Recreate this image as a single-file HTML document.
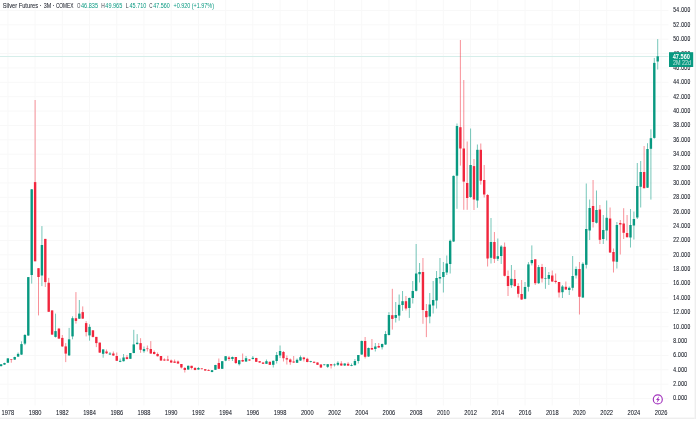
<!DOCTYPE html>
<html><head><meta charset="utf-8"><title>Silver Futures 3M COMEX</title>
<style>
html,body{margin:0;padding:0;background:#fff;width:700px;height:421px;overflow:hidden}
svg{display:block}
text{font-family:"Liberation Sans",Arial,sans-serif}
</style></head><body>
<svg width="700" height="421" viewBox="0 0 700 421">
<rect x="0" y="0" width="700" height="421" fill="#ffffff"/>
<rect x="0" y="398.00" width="668.5" height="1" fill="#f8f8f8"/>
<rect x="0" y="383.63" width="668.5" height="1" fill="#f8f8f8"/>
<rect x="0" y="369.25" width="668.5" height="1" fill="#f8f8f8"/>
<rect x="0" y="354.88" width="668.5" height="1" fill="#f8f8f8"/>
<rect x="0" y="340.50" width="668.5" height="1" fill="#f8f8f8"/>
<rect x="0" y="326.13" width="668.5" height="1" fill="#f8f8f8"/>
<rect x="0" y="311.76" width="668.5" height="1" fill="#f8f8f8"/>
<rect x="0" y="297.38" width="668.5" height="1" fill="#f8f8f8"/>
<rect x="0" y="283.01" width="668.5" height="1" fill="#f8f8f8"/>
<rect x="0" y="268.63" width="668.5" height="1" fill="#f8f8f8"/>
<rect x="0" y="254.26" width="668.5" height="1" fill="#f8f8f8"/>
<rect x="0" y="239.89" width="668.5" height="1" fill="#f8f8f8"/>
<rect x="0" y="225.51" width="668.5" height="1" fill="#f8f8f8"/>
<rect x="0" y="211.14" width="668.5" height="1" fill="#f8f8f8"/>
<rect x="0" y="196.76" width="668.5" height="1" fill="#f8f8f8"/>
<rect x="0" y="182.39" width="668.5" height="1" fill="#f8f8f8"/>
<rect x="0" y="168.02" width="668.5" height="1" fill="#f8f8f8"/>
<rect x="0" y="153.64" width="668.5" height="1" fill="#f8f8f8"/>
<rect x="0" y="139.27" width="668.5" height="1" fill="#f8f8f8"/>
<rect x="0" y="124.89" width="668.5" height="1" fill="#f8f8f8"/>
<rect x="0" y="110.52" width="668.5" height="1" fill="#f8f8f8"/>
<rect x="0" y="96.15" width="668.5" height="1" fill="#f8f8f8"/>
<rect x="0" y="81.77" width="668.5" height="1" fill="#f8f8f8"/>
<rect x="0" y="67.40" width="668.5" height="1" fill="#f8f8f8"/>
<rect x="0" y="53.02" width="668.5" height="1" fill="#f8f8f8"/>
<rect x="0" y="38.65" width="668.5" height="1" fill="#f8f8f8"/>
<rect x="0" y="24.28" width="668.5" height="1" fill="#f8f8f8"/>
<rect x="0" y="9.90" width="668.5" height="1" fill="#f8f8f8"/>
<rect x="7.38" y="0" width="1" height="405.5" fill="#f8f8f8"/>
<rect x="34.60" y="0" width="1" height="405.5" fill="#f8f8f8"/>
<rect x="61.82" y="0" width="1" height="405.5" fill="#f8f8f8"/>
<rect x="89.04" y="0" width="1" height="405.5" fill="#f8f8f8"/>
<rect x="116.25" y="0" width="1" height="405.5" fill="#f8f8f8"/>
<rect x="143.47" y="0" width="1" height="405.5" fill="#f8f8f8"/>
<rect x="170.69" y="0" width="1" height="405.5" fill="#f8f8f8"/>
<rect x="197.91" y="0" width="1" height="405.5" fill="#f8f8f8"/>
<rect x="225.13" y="0" width="1" height="405.5" fill="#f8f8f8"/>
<rect x="252.34" y="0" width="1" height="405.5" fill="#f8f8f8"/>
<rect x="279.56" y="0" width="1" height="405.5" fill="#f8f8f8"/>
<rect x="306.78" y="0" width="1" height="405.5" fill="#f8f8f8"/>
<rect x="334.00" y="0" width="1" height="405.5" fill="#f8f8f8"/>
<rect x="361.21" y="0" width="1" height="405.5" fill="#f8f8f8"/>
<rect x="388.43" y="0" width="1" height="405.5" fill="#f8f8f8"/>
<rect x="415.65" y="0" width="1" height="405.5" fill="#f8f8f8"/>
<rect x="442.87" y="0" width="1" height="405.5" fill="#f8f8f8"/>
<rect x="470.08" y="0" width="1" height="405.5" fill="#f8f8f8"/>
<rect x="497.30" y="0" width="1" height="405.5" fill="#f8f8f8"/>
<rect x="524.52" y="0" width="1" height="405.5" fill="#f8f8f8"/>
<rect x="551.74" y="0" width="1" height="405.5" fill="#f8f8f8"/>
<rect x="578.95" y="0" width="1" height="405.5" fill="#f8f8f8"/>
<rect x="606.17" y="0" width="1" height="405.5" fill="#f8f8f8"/>
<rect x="633.39" y="0" width="1" height="405.5" fill="#f8f8f8"/>
<rect x="660.61" y="0" width="1" height="405.5" fill="#f8f8f8"/>
<rect x="0" y="56.0" width="668.5" height="1" fill="#d6eeea"/>
<rect x="0.58" y="364.00" width="1.0" height="2.50" fill="#089981" fill-opacity="0.55"/>
<rect x="-0.12" y="364.30" width="2.4" height="1.80" fill="#089981"/>
<rect x="3.98" y="362.70" width="1.0" height="2.30" fill="#089981" fill-opacity="0.55"/>
<rect x="3.28" y="363.00" width="2.4" height="1.60" fill="#089981"/>
<rect x="7.38" y="358.00" width="1.0" height="5.00" fill="#089981" fill-opacity="0.55"/>
<rect x="6.68" y="358.40" width="2.4" height="4.30" fill="#089981"/>
<rect x="10.79" y="359.10" width="1.0" height="3.60" fill="#f23645" fill-opacity="0.55"/>
<rect x="10.09" y="359.10" width="2.4" height="0.60" fill="#f1263d"/>
<rect x="14.19" y="356.70" width="1.0" height="3.30" fill="#089981" fill-opacity="0.55"/>
<rect x="13.49" y="357.00" width="2.4" height="2.60" fill="#089981"/>
<rect x="17.59" y="352.50" width="1.0" height="4.50" fill="#089981" fill-opacity="0.55"/>
<rect x="16.89" y="353.90" width="2.4" height="2.70" fill="#089981"/>
<rect x="20.99" y="341.30" width="1.0" height="13.70" fill="#089981" fill-opacity="0.55"/>
<rect x="20.29" y="344.10" width="2.4" height="10.50" fill="#089981"/>
<rect x="24.40" y="334.00" width="1.0" height="11.10" fill="#089981" fill-opacity="0.55"/>
<rect x="23.70" y="335.00" width="2.4" height="8.60" fill="#089981"/>
<rect x="27.80" y="277.00" width="1.0" height="59.00" fill="#089981" fill-opacity="0.55"/>
<rect x="27.10" y="277.10" width="2.4" height="58.40" fill="#089981"/>
<rect x="31.20" y="189.00" width="1.0" height="94.60" fill="#089981" fill-opacity="0.55"/>
<rect x="30.50" y="189.30" width="2.4" height="85.70" fill="#089981"/>
<rect x="34.60" y="100.00" width="1.0" height="161.30" fill="#f23645" fill-opacity="0.55"/>
<rect x="33.90" y="182.10" width="2.4" height="79.20" fill="#f1263d"/>
<rect x="38.00" y="268.20" width="1.0" height="47.20" fill="#f23645" fill-opacity="0.55"/>
<rect x="37.30" y="268.20" width="2.4" height="8.80" fill="#f1263d"/>
<rect x="41.41" y="226.10" width="1.0" height="60.00" fill="#089981" fill-opacity="0.55"/>
<rect x="40.71" y="245.00" width="2.4" height="30.50" fill="#089981"/>
<rect x="44.81" y="238.90" width="1.0" height="48.10" fill="#f23645" fill-opacity="0.55"/>
<rect x="44.11" y="238.90" width="2.4" height="43.20" fill="#f1263d"/>
<rect x="48.21" y="277.90" width="1.0" height="34.10" fill="#f23645" fill-opacity="0.55"/>
<rect x="47.51" y="282.80" width="2.4" height="29.00" fill="#f1263d"/>
<rect x="51.61" y="310.40" width="1.0" height="24.60" fill="#f23645" fill-opacity="0.55"/>
<rect x="50.91" y="310.40" width="2.4" height="24.20" fill="#f1263d"/>
<rect x="55.02" y="313.60" width="1.0" height="23.90" fill="#089981" fill-opacity="0.55"/>
<rect x="54.32" y="331.10" width="2.4" height="5.80" fill="#089981"/>
<rect x="58.42" y="327.90" width="1.0" height="11.10" fill="#f23645" fill-opacity="0.55"/>
<rect x="57.72" y="328.60" width="2.4" height="10.00" fill="#f1263d"/>
<rect x="61.82" y="335.00" width="1.0" height="12.00" fill="#f23645" fill-opacity="0.55"/>
<rect x="61.12" y="337.90" width="2.4" height="8.50" fill="#f1263d"/>
<rect x="65.22" y="343.10" width="1.0" height="19.00" fill="#f23645" fill-opacity="0.55"/>
<rect x="64.52" y="346.40" width="2.4" height="7.20" fill="#f1263d"/>
<rect x="68.62" y="327.90" width="1.0" height="28.10" fill="#089981" fill-opacity="0.55"/>
<rect x="67.92" y="339.30" width="2.4" height="16.10" fill="#089981"/>
<rect x="72.03" y="316.30" width="1.0" height="23.00" fill="#089981" fill-opacity="0.55"/>
<rect x="71.33" y="318.20" width="2.4" height="18.20" fill="#089981"/>
<rect x="75.43" y="292.10" width="1.0" height="31.50" fill="#f23645" fill-opacity="0.55"/>
<rect x="74.73" y="318.20" width="2.4" height="2.70" fill="#f1263d"/>
<rect x="78.83" y="300.00" width="1.0" height="19.00" fill="#089981" fill-opacity="0.55"/>
<rect x="78.13" y="313.60" width="2.4" height="5.10" fill="#089981"/>
<rect x="82.23" y="306.40" width="1.0" height="12.60" fill="#f23645" fill-opacity="0.55"/>
<rect x="81.53" y="312.10" width="2.4" height="6.50" fill="#f1263d"/>
<rect x="85.64" y="321.10" width="1.0" height="15.30" fill="#f23645" fill-opacity="0.55"/>
<rect x="84.94" y="323.10" width="2.4" height="9.00" fill="#f1263d"/>
<rect x="89.04" y="324.30" width="1.0" height="16.40" fill="#089981" fill-opacity="0.55"/>
<rect x="88.34" y="326.90" width="2.4" height="8.50" fill="#089981"/>
<rect x="92.44" y="330.30" width="1.0" height="7.20" fill="#f23645" fill-opacity="0.55"/>
<rect x="91.74" y="330.30" width="2.4" height="6.60" fill="#f1263d"/>
<rect x="95.84" y="336.90" width="1.0" height="10.20" fill="#f23645" fill-opacity="0.55"/>
<rect x="95.14" y="336.90" width="2.4" height="6.20" fill="#f1263d"/>
<rect x="99.24" y="342.60" width="1.0" height="10.40" fill="#f23645" fill-opacity="0.55"/>
<rect x="98.54" y="342.60" width="2.4" height="10.00" fill="#f1263d"/>
<rect x="102.65" y="349.30" width="1.0" height="8.40" fill="#089981" fill-opacity="0.55"/>
<rect x="101.95" y="349.40" width="2.4" height="4.40" fill="#089981"/>
<rect x="106.05" y="349.50" width="1.0" height="4.50" fill="#f23645" fill-opacity="0.55"/>
<rect x="105.35" y="351.50" width="2.4" height="1.80" fill="#f1263d"/>
<rect x="109.45" y="352.00" width="1.0" height="3.00" fill="#089981" fill-opacity="0.55"/>
<rect x="108.75" y="353.50" width="2.4" height="1.00" fill="#089981"/>
<rect x="112.85" y="351.50" width="1.0" height="4.50" fill="#f23645" fill-opacity="0.55"/>
<rect x="112.15" y="353.50" width="2.4" height="2.00" fill="#f1263d"/>
<rect x="116.25" y="352.50" width="1.0" height="8.50" fill="#f23645" fill-opacity="0.55"/>
<rect x="115.55" y="356.00" width="2.4" height="4.80" fill="#f1263d"/>
<rect x="119.66" y="358.50" width="1.0" height="3.70" fill="#089981" fill-opacity="0.55"/>
<rect x="118.96" y="360.80" width="2.4" height="1.00" fill="#089981"/>
<rect x="123.06" y="354.00" width="1.0" height="7.50" fill="#089981" fill-opacity="0.55"/>
<rect x="122.36" y="357.50" width="2.4" height="3.70" fill="#089981"/>
<rect x="126.46" y="355.00" width="1.0" height="4.50" fill="#f23645" fill-opacity="0.55"/>
<rect x="125.76" y="357.20" width="2.4" height="1.80" fill="#f1263d"/>
<rect x="129.86" y="353.00" width="1.0" height="6.00" fill="#089981" fill-opacity="0.55"/>
<rect x="129.16" y="353.00" width="2.4" height="5.80" fill="#089981"/>
<rect x="133.27" y="329.80" width="1.0" height="23.50" fill="#089981" fill-opacity="0.55"/>
<rect x="132.57" y="344.40" width="2.4" height="8.60" fill="#089981"/>
<rect x="136.67" y="334.10" width="1.0" height="10.40" fill="#089981" fill-opacity="0.55"/>
<rect x="135.97" y="342.70" width="2.4" height="1.40" fill="#089981"/>
<rect x="140.07" y="338.20" width="1.0" height="14.60" fill="#f23645" fill-opacity="0.55"/>
<rect x="139.37" y="343.10" width="2.4" height="6.70" fill="#f1263d"/>
<rect x="143.47" y="346.50" width="1.0" height="6.30" fill="#089981" fill-opacity="0.55"/>
<rect x="142.77" y="349.00" width="2.4" height="2.20" fill="#089981"/>
<rect x="146.87" y="345.50" width="1.0" height="6.00" fill="#f23645" fill-opacity="0.55"/>
<rect x="146.17" y="348.50" width="2.4" height="0.60" fill="#f1263d"/>
<rect x="150.28" y="341.10" width="1.0" height="12.90" fill="#f23645" fill-opacity="0.55"/>
<rect x="149.58" y="349.00" width="2.4" height="4.50" fill="#f1263d"/>
<rect x="153.68" y="350.50" width="1.0" height="4.00" fill="#f23645" fill-opacity="0.55"/>
<rect x="152.98" y="352.00" width="2.4" height="2.00" fill="#f1263d"/>
<rect x="157.08" y="352.50" width="1.0" height="4.00" fill="#f23645" fill-opacity="0.55"/>
<rect x="156.38" y="354.00" width="2.4" height="2.20" fill="#f1263d"/>
<rect x="160.48" y="356.00" width="1.0" height="5.00" fill="#f23645" fill-opacity="0.55"/>
<rect x="159.78" y="356.00" width="2.4" height="4.50" fill="#f1263d"/>
<rect x="163.89" y="358.30" width="1.0" height="2.70" fill="#f23645" fill-opacity="0.55"/>
<rect x="163.19" y="359.50" width="2.4" height="1.00" fill="#f1263d"/>
<rect x="167.29" y="355.80" width="1.0" height="5.20" fill="#f23645" fill-opacity="0.55"/>
<rect x="166.59" y="359.50" width="2.4" height="1.00" fill="#f1263d"/>
<rect x="170.69" y="359.50" width="1.0" height="3.50" fill="#f23645" fill-opacity="0.55"/>
<rect x="169.99" y="360.50" width="2.4" height="2.00" fill="#f1263d"/>
<rect x="174.09" y="359.50" width="1.0" height="3.50" fill="#f23645" fill-opacity="0.55"/>
<rect x="173.39" y="361.50" width="2.4" height="1.30" fill="#f1263d"/>
<rect x="177.49" y="360.50" width="1.0" height="3.50" fill="#f23645" fill-opacity="0.55"/>
<rect x="176.79" y="361.50" width="2.4" height="2.00" fill="#f1263d"/>
<rect x="180.90" y="364.00" width="1.0" height="4.50" fill="#f23645" fill-opacity="0.55"/>
<rect x="180.20" y="364.00" width="2.4" height="3.50" fill="#f1263d"/>
<rect x="184.30" y="367.00" width="1.0" height="5.50" fill="#f23645" fill-opacity="0.55"/>
<rect x="183.60" y="368.00" width="2.4" height="2.00" fill="#f1263d"/>
<rect x="187.70" y="365.50" width="1.0" height="4.50" fill="#089981" fill-opacity="0.55"/>
<rect x="187.00" y="365.80" width="2.4" height="3.70" fill="#089981"/>
<rect x="191.10" y="365.80" width="1.0" height="3.70" fill="#f23645" fill-opacity="0.55"/>
<rect x="190.40" y="365.80" width="2.4" height="2.20" fill="#f1263d"/>
<rect x="194.51" y="367.00" width="1.0" height="3.30" fill="#f23645" fill-opacity="0.55"/>
<rect x="193.81" y="368.00" width="2.4" height="2.00" fill="#f1263d"/>
<rect x="197.91" y="367.00" width="1.0" height="3.00" fill="#089981" fill-opacity="0.55"/>
<rect x="197.21" y="368.00" width="2.4" height="1.50" fill="#089981"/>
<rect x="201.31" y="368.00" width="1.0" height="1.50" fill="#f23645" fill-opacity="0.55"/>
<rect x="200.61" y="368.50" width="2.4" height="0.60" fill="#f1263d"/>
<rect x="204.71" y="369.00" width="1.0" height="2.00" fill="#f23645" fill-opacity="0.55"/>
<rect x="204.01" y="369.20" width="2.4" height="1.30" fill="#f1263d"/>
<rect x="208.11" y="369.20" width="1.0" height="1.80" fill="#f23645" fill-opacity="0.55"/>
<rect x="207.41" y="370.00" width="2.4" height="0.80" fill="#f1263d"/>
<rect x="211.52" y="370.00" width="1.0" height="2.30" fill="#089981" fill-opacity="0.55"/>
<rect x="210.82" y="370.20" width="2.4" height="1.80" fill="#089981"/>
<rect x="214.92" y="364.80" width="1.0" height="5.20" fill="#089981" fill-opacity="0.55"/>
<rect x="214.22" y="365.00" width="2.4" height="4.80" fill="#089981"/>
<rect x="218.32" y="358.50" width="1.0" height="10.50" fill="#f23645" fill-opacity="0.55"/>
<rect x="217.62" y="363.00" width="2.4" height="5.80" fill="#f1263d"/>
<rect x="221.72" y="361.00" width="1.0" height="8.00" fill="#089981" fill-opacity="0.55"/>
<rect x="221.02" y="361.20" width="2.4" height="7.60" fill="#089981"/>
<rect x="225.13" y="356.00" width="1.0" height="5.20" fill="#089981" fill-opacity="0.55"/>
<rect x="224.43" y="356.20" width="2.4" height="4.40" fill="#089981"/>
<rect x="228.53" y="356.00" width="1.0" height="5.00" fill="#f23645" fill-opacity="0.55"/>
<rect x="227.83" y="357.50" width="2.4" height="1.50" fill="#f1263d"/>
<rect x="231.93" y="356.50" width="1.0" height="4.50" fill="#089981" fill-opacity="0.55"/>
<rect x="231.23" y="357.00" width="2.4" height="2.00" fill="#089981"/>
<rect x="235.33" y="357.00" width="1.0" height="7.00" fill="#f23645" fill-opacity="0.55"/>
<rect x="234.63" y="357.00" width="2.4" height="6.00" fill="#f1263d"/>
<rect x="238.73" y="360.00" width="1.0" height="5.50" fill="#089981" fill-opacity="0.55"/>
<rect x="238.03" y="360.20" width="2.4" height="4.00" fill="#089981"/>
<rect x="242.14" y="353.50" width="1.0" height="8.50" fill="#f23645" fill-opacity="0.55"/>
<rect x="241.44" y="360.00" width="2.4" height="1.50" fill="#f1263d"/>
<rect x="245.54" y="356.00" width="1.0" height="6.00" fill="#089981" fill-opacity="0.55"/>
<rect x="244.84" y="358.20" width="2.4" height="3.30" fill="#089981"/>
<rect x="248.94" y="359.00" width="1.0" height="2.00" fill="#f23645" fill-opacity="0.55"/>
<rect x="248.24" y="359.50" width="2.4" height="1.00" fill="#f1263d"/>
<rect x="252.34" y="356.00" width="1.0" height="3.50" fill="#089981" fill-opacity="0.55"/>
<rect x="251.64" y="357.80" width="2.4" height="1.20" fill="#089981"/>
<rect x="255.75" y="357.80" width="1.0" height="4.20" fill="#f23645" fill-opacity="0.55"/>
<rect x="255.05" y="358.00" width="2.4" height="3.80" fill="#f1263d"/>
<rect x="259.15" y="361.00" width="1.0" height="2.00" fill="#f23645" fill-opacity="0.55"/>
<rect x="258.45" y="361.20" width="2.4" height="1.30" fill="#f1263d"/>
<rect x="262.55" y="362.30" width="1.0" height="1.70" fill="#f23645" fill-opacity="0.55"/>
<rect x="261.85" y="362.50" width="2.4" height="1.30" fill="#f1263d"/>
<rect x="265.95" y="359.50" width="1.0" height="4.50" fill="#089981" fill-opacity="0.55"/>
<rect x="265.25" y="361.20" width="2.4" height="2.60" fill="#089981"/>
<rect x="269.35" y="361.50" width="1.0" height="3.50" fill="#f23645" fill-opacity="0.55"/>
<rect x="268.65" y="361.80" width="2.4" height="3.00" fill="#f1263d"/>
<rect x="272.76" y="360.50" width="1.0" height="7.00" fill="#089981" fill-opacity="0.55"/>
<rect x="272.06" y="360.80" width="2.4" height="4.00" fill="#089981"/>
<rect x="276.16" y="352.00" width="1.0" height="11.50" fill="#089981" fill-opacity="0.55"/>
<rect x="275.46" y="355.00" width="2.4" height="6.00" fill="#089981"/>
<rect x="279.56" y="345.50" width="1.0" height="12.50" fill="#089981" fill-opacity="0.55"/>
<rect x="278.86" y="351.00" width="2.4" height="4.50" fill="#089981"/>
<rect x="282.96" y="351.00" width="1.0" height="10.50" fill="#f23645" fill-opacity="0.55"/>
<rect x="282.26" y="352.00" width="2.4" height="6.20" fill="#f1263d"/>
<rect x="286.36" y="355.50" width="1.0" height="9.00" fill="#f23645" fill-opacity="0.55"/>
<rect x="285.66" y="358.20" width="2.4" height="1.30" fill="#f1263d"/>
<rect x="289.77" y="358.50" width="1.0" height="6.30" fill="#f23645" fill-opacity="0.55"/>
<rect x="289.07" y="359.50" width="2.4" height="2.70" fill="#f1263d"/>
<rect x="293.17" y="356.00" width="1.0" height="7.00" fill="#f23645" fill-opacity="0.55"/>
<rect x="292.47" y="361.50" width="2.4" height="1.00" fill="#f1263d"/>
<rect x="296.57" y="358.50" width="1.0" height="4.50" fill="#089981" fill-opacity="0.55"/>
<rect x="295.87" y="359.80" width="2.4" height="3.00" fill="#089981"/>
<rect x="299.97" y="355.50" width="1.0" height="5.50" fill="#089981" fill-opacity="0.55"/>
<rect x="299.27" y="357.20" width="2.4" height="3.30" fill="#089981"/>
<rect x="303.38" y="356.80" width="1.0" height="4.70" fill="#f23645" fill-opacity="0.55"/>
<rect x="302.68" y="357.50" width="2.4" height="1.70" fill="#f1263d"/>
<rect x="306.78" y="357.80" width="1.0" height="4.50" fill="#f23645" fill-opacity="0.55"/>
<rect x="306.08" y="358.80" width="2.4" height="3.20" fill="#f1263d"/>
<rect x="310.18" y="360.80" width="1.0" height="1.70" fill="#089981" fill-opacity="0.55"/>
<rect x="309.48" y="361.20" width="2.4" height="0.80" fill="#089981"/>
<rect x="313.58" y="361.50" width="1.0" height="1.70" fill="#f23645" fill-opacity="0.55"/>
<rect x="312.88" y="361.80" width="2.4" height="1.00" fill="#f1263d"/>
<rect x="316.98" y="362.30" width="1.0" height="2.70" fill="#f23645" fill-opacity="0.55"/>
<rect x="316.28" y="362.50" width="2.4" height="2.30" fill="#f1263d"/>
<rect x="320.39" y="364.30" width="1.0" height="3.70" fill="#f23645" fill-opacity="0.55"/>
<rect x="319.69" y="364.50" width="2.4" height="3.00" fill="#f1263d"/>
<rect x="323.79" y="364.00" width="1.0" height="1.50" fill="#089981" fill-opacity="0.55"/>
<rect x="323.09" y="364.50" width="2.4" height="0.60" fill="#089981"/>
<rect x="327.19" y="364.00" width="1.0" height="4.00" fill="#089981" fill-opacity="0.55"/>
<rect x="326.49" y="364.20" width="2.4" height="2.60" fill="#089981"/>
<rect x="330.59" y="364.00" width="1.0" height="4.50" fill="#f23645" fill-opacity="0.55"/>
<rect x="329.89" y="364.20" width="2.4" height="1.30" fill="#f1263d"/>
<rect x="334.00" y="363.50" width="1.0" height="3.00" fill="#089981" fill-opacity="0.55"/>
<rect x="333.30" y="364.50" width="2.4" height="0.70" fill="#089981"/>
<rect x="337.40" y="361.20" width="1.0" height="4.80" fill="#089981" fill-opacity="0.55"/>
<rect x="336.70" y="362.80" width="2.4" height="2.00" fill="#089981"/>
<rect x="340.80" y="361.20" width="1.0" height="4.80" fill="#f23645" fill-opacity="0.55"/>
<rect x="340.10" y="363.50" width="2.4" height="2.00" fill="#f1263d"/>
<rect x="344.20" y="363.30" width="1.0" height="2.70" fill="#089981" fill-opacity="0.55"/>
<rect x="343.50" y="363.50" width="2.4" height="2.00" fill="#089981"/>
<rect x="347.60" y="362.20" width="1.0" height="3.80" fill="#f23645" fill-opacity="0.55"/>
<rect x="346.90" y="363.80" width="2.4" height="1.80" fill="#f1263d"/>
<rect x="351.01" y="363.50" width="1.0" height="2.70" fill="#089981" fill-opacity="0.55"/>
<rect x="350.31" y="365.00" width="2.4" height="0.80" fill="#089981"/>
<rect x="354.41" y="359.00" width="1.0" height="6.50" fill="#089981" fill-opacity="0.55"/>
<rect x="353.71" y="361.00" width="2.4" height="4.20" fill="#089981"/>
<rect x="357.81" y="355.00" width="1.0" height="8.50" fill="#089981" fill-opacity="0.55"/>
<rect x="357.11" y="355.00" width="2.4" height="6.00" fill="#089981"/>
<rect x="361.21" y="340.50" width="1.0" height="14.50" fill="#089981" fill-opacity="0.55"/>
<rect x="360.51" y="341.00" width="2.4" height="13.50" fill="#089981"/>
<rect x="364.62" y="337.00" width="1.0" height="21.50" fill="#f23645" fill-opacity="0.55"/>
<rect x="363.92" y="341.00" width="2.4" height="15.80" fill="#f1263d"/>
<rect x="368.02" y="347.50" width="1.0" height="9.50" fill="#089981" fill-opacity="0.55"/>
<rect x="367.32" y="348.00" width="2.4" height="8.50" fill="#089981"/>
<rect x="371.42" y="339.00" width="1.0" height="11.00" fill="#f23645" fill-opacity="0.55"/>
<rect x="370.72" y="348.00" width="2.4" height="1.50" fill="#f1263d"/>
<rect x="374.82" y="343.00" width="1.0" height="8.50" fill="#089981" fill-opacity="0.55"/>
<rect x="374.12" y="346.50" width="2.4" height="2.50" fill="#089981"/>
<rect x="378.22" y="343.00" width="1.0" height="5.00" fill="#f23645" fill-opacity="0.55"/>
<rect x="377.52" y="346.00" width="2.4" height="1.50" fill="#f1263d"/>
<rect x="381.63" y="343.50" width="1.0" height="6.00" fill="#089981" fill-opacity="0.55"/>
<rect x="380.93" y="344.00" width="2.4" height="3.20" fill="#089981"/>
<rect x="385.03" y="331.10" width="1.0" height="13.90" fill="#089981" fill-opacity="0.55"/>
<rect x="384.33" y="334.00" width="2.4" height="10.50" fill="#089981"/>
<rect x="388.43" y="312.10" width="1.0" height="23.40" fill="#089981" fill-opacity="0.55"/>
<rect x="387.73" y="315.00" width="2.4" height="20.00" fill="#089981"/>
<rect x="391.83" y="288.80" width="1.0" height="40.80" fill="#f23645" fill-opacity="0.55"/>
<rect x="391.13" y="315.20" width="2.4" height="3.70" fill="#f1263d"/>
<rect x="395.24" y="302.00" width="1.0" height="20.50" fill="#089981" fill-opacity="0.55"/>
<rect x="394.54" y="315.00" width="2.4" height="2.90" fill="#089981"/>
<rect x="398.64" y="294.50" width="1.0" height="26.20" fill="#089981" fill-opacity="0.55"/>
<rect x="397.94" y="304.80" width="2.4" height="10.80" fill="#089981"/>
<rect x="402.04" y="291.00" width="1.0" height="19.80" fill="#089981" fill-opacity="0.55"/>
<rect x="401.34" y="301.20" width="2.4" height="3.80" fill="#089981"/>
<rect x="405.44" y="296.00" width="1.0" height="14.50" fill="#f23645" fill-opacity="0.55"/>
<rect x="404.74" y="301.20" width="2.4" height="7.30" fill="#f1263d"/>
<rect x="408.84" y="297.50" width="1.0" height="20.40" fill="#089981" fill-opacity="0.55"/>
<rect x="408.14" y="298.00" width="2.4" height="10.00" fill="#089981"/>
<rect x="412.25" y="281.00" width="1.0" height="22.50" fill="#089981" fill-opacity="0.55"/>
<rect x="411.55" y="291.00" width="2.4" height="7.00" fill="#089981"/>
<rect x="415.65" y="244.00" width="1.0" height="47.50" fill="#089981" fill-opacity="0.55"/>
<rect x="414.95" y="273.50" width="2.4" height="17.30" fill="#089981"/>
<rect x="419.05" y="263.00" width="1.0" height="19.50" fill="#089981" fill-opacity="0.55"/>
<rect x="418.35" y="272.00" width="2.4" height="2.20" fill="#089981"/>
<rect x="422.45" y="258.00" width="1.0" height="65.80" fill="#f23645" fill-opacity="0.55"/>
<rect x="421.75" y="272.00" width="2.4" height="38.00" fill="#f1263d"/>
<rect x="425.86" y="304.00" width="1.0" height="33.10" fill="#f23645" fill-opacity="0.55"/>
<rect x="425.16" y="311.00" width="2.4" height="6.20" fill="#f1263d"/>
<rect x="429.26" y="293.00" width="1.0" height="30.30" fill="#089981" fill-opacity="0.55"/>
<rect x="428.56" y="304.50" width="2.4" height="12.00" fill="#089981"/>
<rect x="432.66" y="281.00" width="1.0" height="32.50" fill="#089981" fill-opacity="0.55"/>
<rect x="431.96" y="300.00" width="2.4" height="5.50" fill="#089981"/>
<rect x="436.06" y="271.00" width="1.0" height="37.50" fill="#089981" fill-opacity="0.55"/>
<rect x="435.36" y="278.00" width="2.4" height="22.50" fill="#089981"/>
<rect x="439.46" y="258.00" width="1.0" height="25.50" fill="#089981" fill-opacity="0.55"/>
<rect x="438.76" y="277.00" width="2.4" height="1.50" fill="#089981"/>
<rect x="442.87" y="262.00" width="1.0" height="30.50" fill="#089981" fill-opacity="0.55"/>
<rect x="442.17" y="272.00" width="2.4" height="5.00" fill="#089981"/>
<rect x="446.27" y="255.50" width="1.0" height="19.50" fill="#089981" fill-opacity="0.55"/>
<rect x="445.57" y="263.50" width="2.4" height="9.00" fill="#089981"/>
<rect x="449.67" y="239.50" width="1.0" height="34.00" fill="#089981" fill-opacity="0.55"/>
<rect x="448.97" y="240.80" width="2.4" height="23.20" fill="#089981"/>
<rect x="453.07" y="175.50" width="1.0" height="66.50" fill="#089981" fill-opacity="0.55"/>
<rect x="452.37" y="175.90" width="2.4" height="65.60" fill="#089981"/>
<rect x="456.47" y="123.50" width="1.0" height="85.30" fill="#089981" fill-opacity="0.55"/>
<rect x="455.77" y="126.00" width="2.4" height="49.70" fill="#089981"/>
<rect x="459.88" y="40.00" width="1.0" height="125.60" fill="#f23645" fill-opacity="0.55"/>
<rect x="459.18" y="127.20" width="2.4" height="21.30" fill="#f1263d"/>
<rect x="463.28" y="80.00" width="1.0" height="129.80" fill="#f23645" fill-opacity="0.55"/>
<rect x="462.58" y="148.50" width="2.4" height="33.10" fill="#f1263d"/>
<rect x="466.68" y="141.50" width="1.0" height="68.30" fill="#f23645" fill-opacity="0.55"/>
<rect x="465.98" y="183.00" width="2.4" height="15.00" fill="#f1263d"/>
<rect x="470.08" y="128.50" width="1.0" height="69.50" fill="#089981" fill-opacity="0.55"/>
<rect x="469.38" y="165.00" width="2.4" height="32.00" fill="#089981"/>
<rect x="473.49" y="159.00" width="1.0" height="51.00" fill="#f23645" fill-opacity="0.55"/>
<rect x="472.79" y="166.10" width="2.4" height="33.40" fill="#f1263d"/>
<rect x="476.89" y="144.50" width="1.0" height="63.30" fill="#089981" fill-opacity="0.55"/>
<rect x="476.19" y="149.80" width="2.4" height="50.70" fill="#089981"/>
<rect x="480.29" y="143.50" width="1.0" height="41.10" fill="#f23645" fill-opacity="0.55"/>
<rect x="479.59" y="149.80" width="2.4" height="30.90" fill="#f1263d"/>
<rect x="483.69" y="165.00" width="1.0" height="32.50" fill="#f23645" fill-opacity="0.55"/>
<rect x="482.99" y="180.00" width="2.4" height="14.50" fill="#f1263d"/>
<rect x="487.09" y="194.00" width="1.0" height="72.50" fill="#f23645" fill-opacity="0.55"/>
<rect x="486.39" y="195.00" width="2.4" height="63.50" fill="#f1263d"/>
<rect x="490.50" y="218.00" width="1.0" height="45.50" fill="#089981" fill-opacity="0.55"/>
<rect x="489.80" y="242.00" width="2.4" height="15.80" fill="#089981"/>
<rect x="493.90" y="232.00" width="1.0" height="31.00" fill="#f23645" fill-opacity="0.55"/>
<rect x="493.20" y="242.00" width="2.4" height="16.80" fill="#f1263d"/>
<rect x="497.30" y="238.50" width="1.0" height="22.50" fill="#089981" fill-opacity="0.55"/>
<rect x="496.60" y="256.20" width="2.4" height="2.60" fill="#089981"/>
<rect x="500.70" y="245.00" width="1.0" height="19.00" fill="#089981" fill-opacity="0.55"/>
<rect x="500.00" y="246.50" width="2.4" height="9.50" fill="#089981"/>
<rect x="504.11" y="242.50" width="1.0" height="34.00" fill="#f23645" fill-opacity="0.55"/>
<rect x="503.41" y="246.80" width="2.4" height="29.00" fill="#f1263d"/>
<rect x="507.51" y="270.50" width="1.0" height="25.50" fill="#f23645" fill-opacity="0.55"/>
<rect x="506.81" y="276.00" width="2.4" height="10.00" fill="#f1263d"/>
<rect x="510.91" y="265.00" width="1.0" height="22.80" fill="#089981" fill-opacity="0.55"/>
<rect x="510.21" y="278.80" width="2.4" height="6.40" fill="#089981"/>
<rect x="514.31" y="270.00" width="1.0" height="17.00" fill="#f23645" fill-opacity="0.55"/>
<rect x="513.61" y="279.00" width="2.4" height="7.00" fill="#f1263d"/>
<rect x="517.71" y="283.20" width="1.0" height="14.30" fill="#f23645" fill-opacity="0.55"/>
<rect x="517.01" y="286.00" width="2.4" height="7.80" fill="#f1263d"/>
<rect x="521.12" y="280.00" width="1.0" height="20.00" fill="#f23645" fill-opacity="0.55"/>
<rect x="520.42" y="294.00" width="2.4" height="5.50" fill="#f1263d"/>
<rect x="524.52" y="282.00" width="1.0" height="17.30" fill="#089981" fill-opacity="0.55"/>
<rect x="523.82" y="287.00" width="2.4" height="11.80" fill="#089981"/>
<rect x="527.92" y="262.10" width="1.0" height="29.40" fill="#089981" fill-opacity="0.55"/>
<rect x="527.22" y="264.40" width="2.4" height="22.40" fill="#089981"/>
<rect x="531.32" y="245.40" width="1.0" height="20.00" fill="#089981" fill-opacity="0.55"/>
<rect x="530.62" y="260.00" width="2.4" height="3.20" fill="#089981"/>
<rect x="534.73" y="259.30" width="1.0" height="25.70" fill="#f23645" fill-opacity="0.55"/>
<rect x="534.03" y="259.30" width="2.4" height="23.90" fill="#f1263d"/>
<rect x="538.13" y="265.00" width="1.0" height="19.00" fill="#089981" fill-opacity="0.55"/>
<rect x="537.43" y="267.10" width="2.4" height="16.10" fill="#089981"/>
<rect x="541.53" y="263.90" width="1.0" height="18.60" fill="#f23645" fill-opacity="0.55"/>
<rect x="540.83" y="267.00" width="2.4" height="11.50" fill="#f1263d"/>
<rect x="544.93" y="267.00" width="1.0" height="21.80" fill="#089981" fill-opacity="0.55"/>
<rect x="544.23" y="278.20" width="2.4" height="0.60" fill="#089981"/>
<rect x="548.33" y="272.00" width="1.0" height="13.00" fill="#089981" fill-opacity="0.55"/>
<rect x="547.63" y="275.00" width="2.4" height="3.80" fill="#089981"/>
<rect x="551.74" y="270.50" width="1.0" height="11.50" fill="#f23645" fill-opacity="0.55"/>
<rect x="551.04" y="275.50" width="2.4" height="6.00" fill="#f1263d"/>
<rect x="555.14" y="273.50" width="1.0" height="10.00" fill="#f23645" fill-opacity="0.55"/>
<rect x="554.44" y="280.80" width="2.4" height="1.20" fill="#f1263d"/>
<rect x="558.54" y="282.00" width="1.0" height="15.50" fill="#f23645" fill-opacity="0.55"/>
<rect x="557.84" y="282.00" width="2.4" height="10.50" fill="#f1263d"/>
<rect x="561.94" y="285.00" width="1.0" height="13.00" fill="#089981" fill-opacity="0.55"/>
<rect x="561.24" y="286.50" width="2.4" height="5.70" fill="#089981"/>
<rect x="565.35" y="281.50" width="1.0" height="8.50" fill="#f23645" fill-opacity="0.55"/>
<rect x="564.65" y="286.80" width="2.4" height="2.70" fill="#f1263d"/>
<rect x="568.75" y="286.50" width="1.0" height="8.50" fill="#089981" fill-opacity="0.55"/>
<rect x="568.05" y="287.80" width="2.4" height="2.20" fill="#089981"/>
<rect x="572.15" y="256.00" width="1.0" height="34.50" fill="#089981" fill-opacity="0.55"/>
<rect x="571.45" y="276.00" width="2.4" height="11.80" fill="#089981"/>
<rect x="575.55" y="266.50" width="1.0" height="12.00" fill="#089981" fill-opacity="0.55"/>
<rect x="574.85" y="269.00" width="2.4" height="6.50" fill="#089981"/>
<rect x="578.95" y="262.00" width="1.0" height="52.50" fill="#f23645" fill-opacity="0.55"/>
<rect x="578.25" y="269.00" width="2.4" height="27.80" fill="#f1263d"/>
<rect x="582.36" y="262.20" width="1.0" height="35.80" fill="#089981" fill-opacity="0.55"/>
<rect x="581.66" y="263.80" width="2.4" height="33.70" fill="#089981"/>
<rect x="585.76" y="183.50" width="1.0" height="85.00" fill="#089981" fill-opacity="0.55"/>
<rect x="585.06" y="229.00" width="2.4" height="35.80" fill="#089981"/>
<rect x="589.16" y="199.50" width="1.0" height="40.50" fill="#089981" fill-opacity="0.55"/>
<rect x="588.46" y="208.00" width="2.4" height="22.50" fill="#089981"/>
<rect x="592.56" y="180.00" width="1.0" height="47.50" fill="#f23645" fill-opacity="0.55"/>
<rect x="591.86" y="206.00" width="2.4" height="16.00" fill="#f1263d"/>
<rect x="595.97" y="190.50" width="1.0" height="33.00" fill="#089981" fill-opacity="0.55"/>
<rect x="595.26" y="210.00" width="2.4" height="12.80" fill="#089981"/>
<rect x="599.37" y="205.00" width="1.0" height="39.00" fill="#f23645" fill-opacity="0.55"/>
<rect x="598.67" y="209.50" width="2.4" height="30.30" fill="#f1263d"/>
<rect x="602.77" y="215.00" width="1.0" height="29.00" fill="#089981" fill-opacity="0.55"/>
<rect x="602.07" y="230.00" width="2.4" height="9.00" fill="#089981"/>
<rect x="606.17" y="200.50" width="1.0" height="40.00" fill="#089981" fill-opacity="0.55"/>
<rect x="605.47" y="217.80" width="2.4" height="12.70" fill="#089981"/>
<rect x="609.57" y="207.50" width="1.0" height="45.50" fill="#f23645" fill-opacity="0.55"/>
<rect x="608.87" y="218.50" width="2.4" height="34.00" fill="#f1263d"/>
<rect x="612.98" y="248.50" width="1.0" height="24.00" fill="#f23645" fill-opacity="0.55"/>
<rect x="612.28" y="252.00" width="2.4" height="9.50" fill="#f1263d"/>
<rect x="616.38" y="222.00" width="1.0" height="46.50" fill="#089981" fill-opacity="0.55"/>
<rect x="615.68" y="225.00" width="2.4" height="36.80" fill="#089981"/>
<rect x="619.78" y="220.00" width="1.0" height="34.50" fill="#f23645" fill-opacity="0.55"/>
<rect x="619.08" y="223.00" width="2.4" height="1.50" fill="#f1263d"/>
<rect x="623.18" y="208.20" width="1.0" height="30.80" fill="#f23645" fill-opacity="0.55"/>
<rect x="622.48" y="223.50" width="2.4" height="9.30" fill="#f1263d"/>
<rect x="626.58" y="215.00" width="1.0" height="22.50" fill="#f23645" fill-opacity="0.55"/>
<rect x="625.88" y="233.00" width="2.4" height="4.20" fill="#f1263d"/>
<rect x="629.99" y="209.00" width="1.0" height="38.50" fill="#089981" fill-opacity="0.55"/>
<rect x="629.29" y="225.00" width="2.4" height="12.50" fill="#089981"/>
<rect x="633.39" y="211.50" width="1.0" height="28.00" fill="#089981" fill-opacity="0.55"/>
<rect x="632.69" y="219.00" width="2.4" height="6.50" fill="#089981"/>
<rect x="636.79" y="163.00" width="1.0" height="56.00" fill="#089981" fill-opacity="0.55"/>
<rect x="636.09" y="186.00" width="2.4" height="31.50" fill="#089981"/>
<rect x="640.19" y="161.00" width="1.0" height="46.50" fill="#089981" fill-opacity="0.55"/>
<rect x="639.49" y="172.00" width="2.4" height="14.80" fill="#089981"/>
<rect x="643.60" y="146.00" width="1.0" height="42.40" fill="#f23645" fill-opacity="0.55"/>
<rect x="642.90" y="172.00" width="2.4" height="16.20" fill="#f1263d"/>
<rect x="647.00" y="143.20" width="1.0" height="44.80" fill="#089981" fill-opacity="0.55"/>
<rect x="646.30" y="149.00" width="2.4" height="38.70" fill="#089981"/>
<rect x="650.40" y="129.30" width="1.0" height="70.30" fill="#089981" fill-opacity="0.55"/>
<rect x="649.70" y="138.20" width="2.4" height="10.60" fill="#089981"/>
<rect x="653.80" y="57.90" width="1.0" height="80.80" fill="#089981" fill-opacity="0.55"/>
<rect x="653.10" y="62.90" width="2.4" height="75.00" fill="#089981"/>
<rect x="657.20" y="39.10" width="1.0" height="30.40" fill="#089981" fill-opacity="0.55"/>
<rect x="656.50" y="56.30" width="2.4" height="5.20" fill="#089981"/>
<rect x="694.6" y="0" width="1.4" height="419" fill="#eeeeee"/>
<rect x="0" y="417.6" width="694.6" height="1.4" fill="#eeeeee"/>
<g font-size="6.7" fill="#131722" stroke="#131722" stroke-width="0.12">
<text transform="translate(673.2,400.40) scale(0.74,1)" letter-spacing="0.5">0.000</text>
<text transform="translate(673.2,386.03) scale(0.74,1)" letter-spacing="0.5">2.000</text>
<text transform="translate(673.2,371.65) scale(0.74,1)" letter-spacing="0.5">4.000</text>
<text transform="translate(673.2,357.28) scale(0.74,1)" letter-spacing="0.5">6.000</text>
<text transform="translate(673.2,342.90) scale(0.74,1)" letter-spacing="0.5">8.000</text>
<text transform="translate(673.2,328.53) scale(0.74,1)" letter-spacing="0.5">10.000</text>
<text transform="translate(673.2,314.16) scale(0.74,1)" letter-spacing="0.5">12.000</text>
<text transform="translate(673.2,299.78) scale(0.74,1)" letter-spacing="0.5">14.000</text>
<text transform="translate(673.2,285.41) scale(0.74,1)" letter-spacing="0.5">16.000</text>
<text transform="translate(673.2,271.03) scale(0.74,1)" letter-spacing="0.5">18.000</text>
<text transform="translate(673.2,256.66) scale(0.74,1)" letter-spacing="0.5">20.000</text>
<text transform="translate(673.2,242.29) scale(0.74,1)" letter-spacing="0.5">22.000</text>
<text transform="translate(673.2,227.91) scale(0.74,1)" letter-spacing="0.5">24.000</text>
<text transform="translate(673.2,213.54) scale(0.74,1)" letter-spacing="0.5">26.000</text>
<text transform="translate(673.2,199.16) scale(0.74,1)" letter-spacing="0.5">28.000</text>
<text transform="translate(673.2,184.79) scale(0.74,1)" letter-spacing="0.5">30.000</text>
<text transform="translate(673.2,170.42) scale(0.74,1)" letter-spacing="0.5">32.000</text>
<text transform="translate(673.2,156.04) scale(0.74,1)" letter-spacing="0.5">34.000</text>
<text transform="translate(673.2,141.67) scale(0.74,1)" letter-spacing="0.5">36.000</text>
<text transform="translate(673.2,127.29) scale(0.74,1)" letter-spacing="0.5">38.000</text>
<text transform="translate(673.2,112.92) scale(0.74,1)" letter-spacing="0.5">40.000</text>
<text transform="translate(673.2,98.55) scale(0.74,1)" letter-spacing="0.5">42.000</text>
<text transform="translate(673.2,84.17) scale(0.74,1)" letter-spacing="0.5">44.000</text>
<text transform="translate(673.2,41.05) scale(0.74,1)" letter-spacing="0.5">50.000</text>
<text transform="translate(673.2,26.68) scale(0.74,1)" letter-spacing="0.5">52.000</text>
<text transform="translate(673.2,12.30) scale(0.74,1)" letter-spacing="0.5">54.000</text>
<text transform="translate(673.2,56.22) scale(0.74,1)" letter-spacing="0.5">48.000</text>
<text transform="translate(673.2,69.80) scale(0.74,1)" letter-spacing="0.5">46.000</text>
</g>
<rect x="669.0" y="52.2" width="24.2" height="14.8" fill="#089981"/>
<text x="672.7" y="59.0" font-size="6.9" font-weight="bold" fill="#ffffff" textLength="17.2" lengthAdjust="spacingAndGlyphs">47.560</text>
<text x="672.9" y="65.3" font-size="6.4" fill="#ffffff" fill-opacity="0.72" stroke="#ffffff" stroke-opacity="0.35" stroke-width="0.1" textLength="18.1" lengthAdjust="spacingAndGlyphs">2M 22d</text>
<g font-size="6.5" fill="#131722" stroke="#131722" stroke-width="0.06">
<text x="7.88" y="414.7" text-anchor="middle" textLength="12.7" lengthAdjust="spacingAndGlyphs">1978</text>
<text x="35.10" y="414.7" text-anchor="middle" textLength="12.7" lengthAdjust="spacingAndGlyphs">1980</text>
<text x="62.32" y="414.7" text-anchor="middle" textLength="12.7" lengthAdjust="spacingAndGlyphs">1982</text>
<text x="89.54" y="414.7" text-anchor="middle" textLength="12.7" lengthAdjust="spacingAndGlyphs">1984</text>
<text x="116.75" y="414.7" text-anchor="middle" textLength="12.7" lengthAdjust="spacingAndGlyphs">1986</text>
<text x="143.97" y="414.7" text-anchor="middle" textLength="12.7" lengthAdjust="spacingAndGlyphs">1988</text>
<text x="171.19" y="414.7" text-anchor="middle" textLength="12.7" lengthAdjust="spacingAndGlyphs">1990</text>
<text x="198.41" y="414.7" text-anchor="middle" textLength="12.7" lengthAdjust="spacingAndGlyphs">1992</text>
<text x="225.63" y="414.7" text-anchor="middle" textLength="12.7" lengthAdjust="spacingAndGlyphs">1994</text>
<text x="252.84" y="414.7" text-anchor="middle" textLength="12.7" lengthAdjust="spacingAndGlyphs">1996</text>
<text x="280.06" y="414.7" text-anchor="middle" textLength="12.7" lengthAdjust="spacingAndGlyphs">1998</text>
<text x="307.28" y="414.7" text-anchor="middle" textLength="12.7" lengthAdjust="spacingAndGlyphs">2000</text>
<text x="334.50" y="414.7" text-anchor="middle" textLength="12.7" lengthAdjust="spacingAndGlyphs">2002</text>
<text x="361.71" y="414.7" text-anchor="middle" textLength="12.7" lengthAdjust="spacingAndGlyphs">2004</text>
<text x="388.93" y="414.7" text-anchor="middle" textLength="12.7" lengthAdjust="spacingAndGlyphs">2006</text>
<text x="416.15" y="414.7" text-anchor="middle" textLength="12.7" lengthAdjust="spacingAndGlyphs">2008</text>
<text x="443.37" y="414.7" text-anchor="middle" textLength="12.7" lengthAdjust="spacingAndGlyphs">2010</text>
<text x="470.58" y="414.7" text-anchor="middle" textLength="12.7" lengthAdjust="spacingAndGlyphs">2012</text>
<text x="497.80" y="414.7" text-anchor="middle" textLength="12.7" lengthAdjust="spacingAndGlyphs">2014</text>
<text x="525.02" y="414.7" text-anchor="middle" textLength="12.7" lengthAdjust="spacingAndGlyphs">2016</text>
<text x="552.24" y="414.7" text-anchor="middle" textLength="12.7" lengthAdjust="spacingAndGlyphs">2018</text>
<text x="579.45" y="414.7" text-anchor="middle" textLength="12.7" lengthAdjust="spacingAndGlyphs">2020</text>
<text x="606.67" y="414.7" text-anchor="middle" textLength="12.7" lengthAdjust="spacingAndGlyphs">2022</text>
<text x="633.89" y="414.7" text-anchor="middle" textLength="12.7" lengthAdjust="spacingAndGlyphs">2024</text>
<text x="661.11" y="414.7" text-anchor="middle" textLength="12.7" lengthAdjust="spacingAndGlyphs">2026</text>
</g>
<g font-size="6.5" stroke-width="0.03">
<text x="2.8" y="7.6" fill="#131722" stroke="#131722" textLength="35.3" lengthAdjust="spacingAndGlyphs">Silver Futures</text>
<text x="40.4" y="7.6" text-anchor="middle" fill="#131722" stroke="#131722">·</text>
<text x="43.7" y="7.6" fill="#131722" stroke="#131722" textLength="7.5" lengthAdjust="spacingAndGlyphs">3M</text>
<text x="53.6" y="7.6" text-anchor="middle" fill="#131722" stroke="#131722">·</text>
<text x="55.9" y="7.6" fill="#131722" stroke="#131722" textLength="17.6" lengthAdjust="spacingAndGlyphs">COMEX</text>
<text x="77" y="7.6" fill="#3a3d45" textLength="3.4" lengthAdjust="spacingAndGlyphs">O</text><text x="81" y="7.6" fill="#089981" textLength="17" lengthAdjust="spacingAndGlyphs">46.835</text>
<text x="101.3" y="7.6" fill="#3a3d45" textLength="3.5" lengthAdjust="spacingAndGlyphs">H</text><text x="105.3" y="7.6" fill="#089981" textLength="17" lengthAdjust="spacingAndGlyphs">49.965</text>
<text x="125.8" y="7.6" fill="#3a3d45" textLength="2.9" lengthAdjust="spacingAndGlyphs">L</text><text x="129.5" y="7.6" fill="#089981" textLength="16.8" lengthAdjust="spacingAndGlyphs">45.710</text>
<text x="149.3" y="7.6" fill="#3a3d45" textLength="3.2" lengthAdjust="spacingAndGlyphs">C</text><text x="153.3" y="7.6" fill="#089981" textLength="16.5" lengthAdjust="spacingAndGlyphs">47.560</text>
<text x="173.5" y="7.6" fill="#089981" textLength="40.5" lengthAdjust="spacingAndGlyphs">+0.920 (+1.97%)</text>
</g>
<circle cx="657.8" cy="399.4" r="4.5" fill="#ffffff" stroke="#a233bd" stroke-width="1.15"/>
<path d="M659.3 396.0 L656.0 400.0 L657.7 400.0 L656.6 402.9 L659.9 398.9 L658.2 398.9 Z" fill="#a233bd"/>
</svg>
</body></html>
